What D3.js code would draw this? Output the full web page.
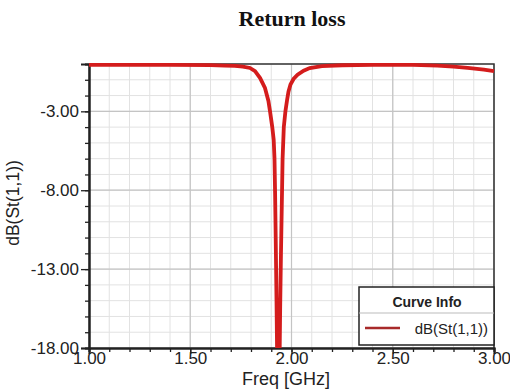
<!DOCTYPE html>
<html>
<head>
<meta charset="utf-8">
<script src="https://cdn.jsdelivr.net/npm/d3@7"></script>
<style>
  body { margin: 0; background: #fff; }
  text { font-family: Arial, "Liberation Sans", sans-serif; }
</style>
</head>
<body>
<div id="chart"></div>
<script>
// S11 sweep
const freq = [1.00, 1.20, 1.40, 1.60, 1.67, 1.72, 1.76, 1.795, 1.82, 1.845, 1.869, 1.886, 1.894, 1.905,
  1.912, 1.916, 1.919, 1.922, 1.926, 1.930, 1.935, 1.940, 1.944, 1.948, 1.952, 1.956, 1.962, 1.970,
  1.978, 1.985, 1.995, 2.010, 2.030, 2.060, 2.090, 2.150, 2.250, 2.400, 2.600, 2.720, 2.800, 2.870, 2.950, 3.00];
const s11 = [-0.05, -0.05, -0.05, -0.07, -0.10, -0.12, -0.16, -0.25, -0.45, -0.89, -1.52, -2.34, -3.0, -4.0,
  -4.8, -6.0, -8.2, -11.0, -15.0, -19.5, -24.0, -20.0, -15.5, -12.0, -9.0, -6.0, -4.0, -3.0,
  -2.3, -1.75, -1.3, -0.95, -0.68, -0.42, -0.26, -0.13, -0.08, -0.06, -0.06, -0.10, -0.17, -0.25, -0.35, -0.45];

const xMajor = [1.0, 1.5, 2.0, 2.5, 3.0];
const yMajor = [-18, -13, -8, -3];
const xMinor = d3.range(10, 31).map(d => d / 10);
const yMinor = d3.range(-18, 1);

const MARGIN = { TOP: 64, BOTTOM: 41, LEFT: 89, RIGHT: 16 };
const WIDTH = 510 - MARGIN.LEFT - MARGIN.RIGHT;
const HEIGHT = 389 - MARGIN.TOP - MARGIN.BOTTOM;

// plain hyphen for negatives, like the original
const fmt = d => d3.format(".2f")(d).replace("\u2212", "-");

const svg = d3.select("#chart").append("svg")
  .attr("width", 510)
  .attr("height", 389);

// title
svg.append("text")
  .attr("x", 292)
  .attr("y", 26)
  .attr("text-anchor", "middle")
  .style("font-family", "'Liberation Serif', 'Times New Roman', serif")
  .attr("font-weight", "bold")
  .attr("font-size", 22)
  .attr("fill", "#111")
  .text("Return loss");

const g = svg.append("g")
  .attr("transform", `translate(${MARGIN.LEFT}, ${MARGIN.TOP})`);

const x = d3.scaleLinear().domain([1, 3]).range([0, WIDTH]);
const y = d3.scaleLinear().domain([-18, 0]).range([HEIGHT, 0]);

// grid, light minor then darker major
g.append("g").selectAll("line").data(xMinor).join("line")
  .attr("x1", d => x(d)).attr("x2", d => x(d))
  .attr("y1", 0).attr("y2", HEIGHT)
  .attr("stroke", "#e2e2e2").attr("stroke-width", 1);
g.append("g").selectAll("line").data(yMinor).join("line")
  .attr("y1", d => y(d)).attr("y2", d => y(d))
  .attr("x1", 0).attr("x2", WIDTH)
  .attr("stroke", "#e2e2e2").attr("stroke-width", 1);
g.append("g").selectAll("line").data(xMajor).join("line")
  .attr("x1", d => x(d)).attr("x2", d => x(d))
  .attr("y1", 0).attr("y2", HEIGHT)
  .attr("stroke", "#c4c4c4").attr("stroke-width", 1.2);
g.append("g").selectAll("line").data(yMajor).join("line")
  .attr("y1", d => y(d)).attr("y2", d => y(d))
  .attr("x1", 0).attr("x2", WIDTH)
  .attr("stroke", "#c4c4c4").attr("stroke-width", 1.2);

// frame top and right
g.append("path")
  .attr("d", `M0,0H${WIDTH}V${HEIGHT}`)
  .attr("fill", "none")
  .attr("stroke", "#333")
  .attr("stroke-width", 1.5);

// axes
const xAxisMinor = d3.axisBottom(x).tickValues(xMinor).tickSize(4).tickFormat("");
const xAxisCall = d3.axisBottom(x).tickValues(xMajor).tickSize(6).tickFormat(fmt);
const yAxisMinor = d3.axisLeft(y).tickValues(yMinor).tickSize(4).tickFormat("");
const yAxisCall = d3.axisLeft(y).tickValues(yMajor).tickSize(8).tickPadding(2).tickFormat(fmt);

g.append("g").attr("transform", `translate(0, ${HEIGHT})`).call(xAxisMinor);
const xAxisGroup = g.append("g").attr("transform", `translate(0, ${HEIGHT})`).call(xAxisCall);
g.append("g").call(yAxisMinor);
g.append("g").call(yAxisCall);

g.selectAll(".domain").attr("stroke", "#222").attr("stroke-width", 2);
g.selectAll(".tick line").attr("stroke", "#222").attr("stroke-width", 1.3);
g.selectAll(".tick text").attr("font-size", 17).attr("fill", "#222")
  .style("font-family", "Arial, 'Liberation Sans', sans-serif");
// x labels sit tight under the axis
xAxisGroup.selectAll(".tick text").attr("y", 4);

// axis titles
g.append("text")
  .attr("x", 197)
  .attr("y", HEIGHT + 37)
  .attr("text-anchor", "middle")
  .attr("font-size", 18)
  .attr("fill", "#222")
  .text("Freq [GHz]");

g.append("text")
  .attr("x", -(HEIGHT / 2) + 3)
  .attr("y", -70)
  .attr("transform", "rotate(-90)")
  .attr("text-anchor", "middle")
  .attr("font-size", 17.5)
  .attr("fill", "#222")
  .text("dB(St(1,1))");

// curve
g.append("clipPath").attr("id", "clip")
  .append("rect").attr("x", -2).attr("y", -3).attr("width", WIDTH + 4).attr("height", HEIGHT + 3);

const line = d3.line()
  .x((d, i) => x(freq[i]))
  .y(d => y(d));

g.append("path")
  .datum(s11)
  .attr("clip-path", "url(#clip)")
  .attr("fill", "none")
  .attr("stroke", "#d41c1c")
  .attr("stroke-width", 3.8)
  .attr("stroke-linejoin", "miter")
  .attr("d", line);

// legend
const lg = svg.append("g").attr("transform", "translate(359, 287)");
lg.append("rect")
  .attr("width", 135).attr("height", 58)
  .attr("fill", "#fff")
  .attr("stroke", "#222").attr("stroke-width", 1.5);
lg.append("line")
  .attr("x1", 0).attr("x2", 135).attr("y1", 26).attr("y2", 26)
  .attr("stroke", "#bbb");
lg.append("text")
  .attr("x", 68).attr("y", 20)
  .attr("text-anchor", "middle")
  .attr("font-size", 14)
  .attr("font-weight", "bold")
  .attr("fill", "#222")
  .text("Curve Info");
lg.append("line")
  .attr("x1", 6).attr("x2", 41).attr("y1", 41).attr("y2", 41)
  .attr("stroke", "#a82a2a").attr("stroke-width", 2.5);
lg.append("text")
  .attr("x", 129).attr("y", 47)
  .attr("text-anchor", "end")
  .attr("font-size", 15)
  .attr("fill", "#222")
  .text("dB(St(1,1))");
</script>
</body>
</html>
